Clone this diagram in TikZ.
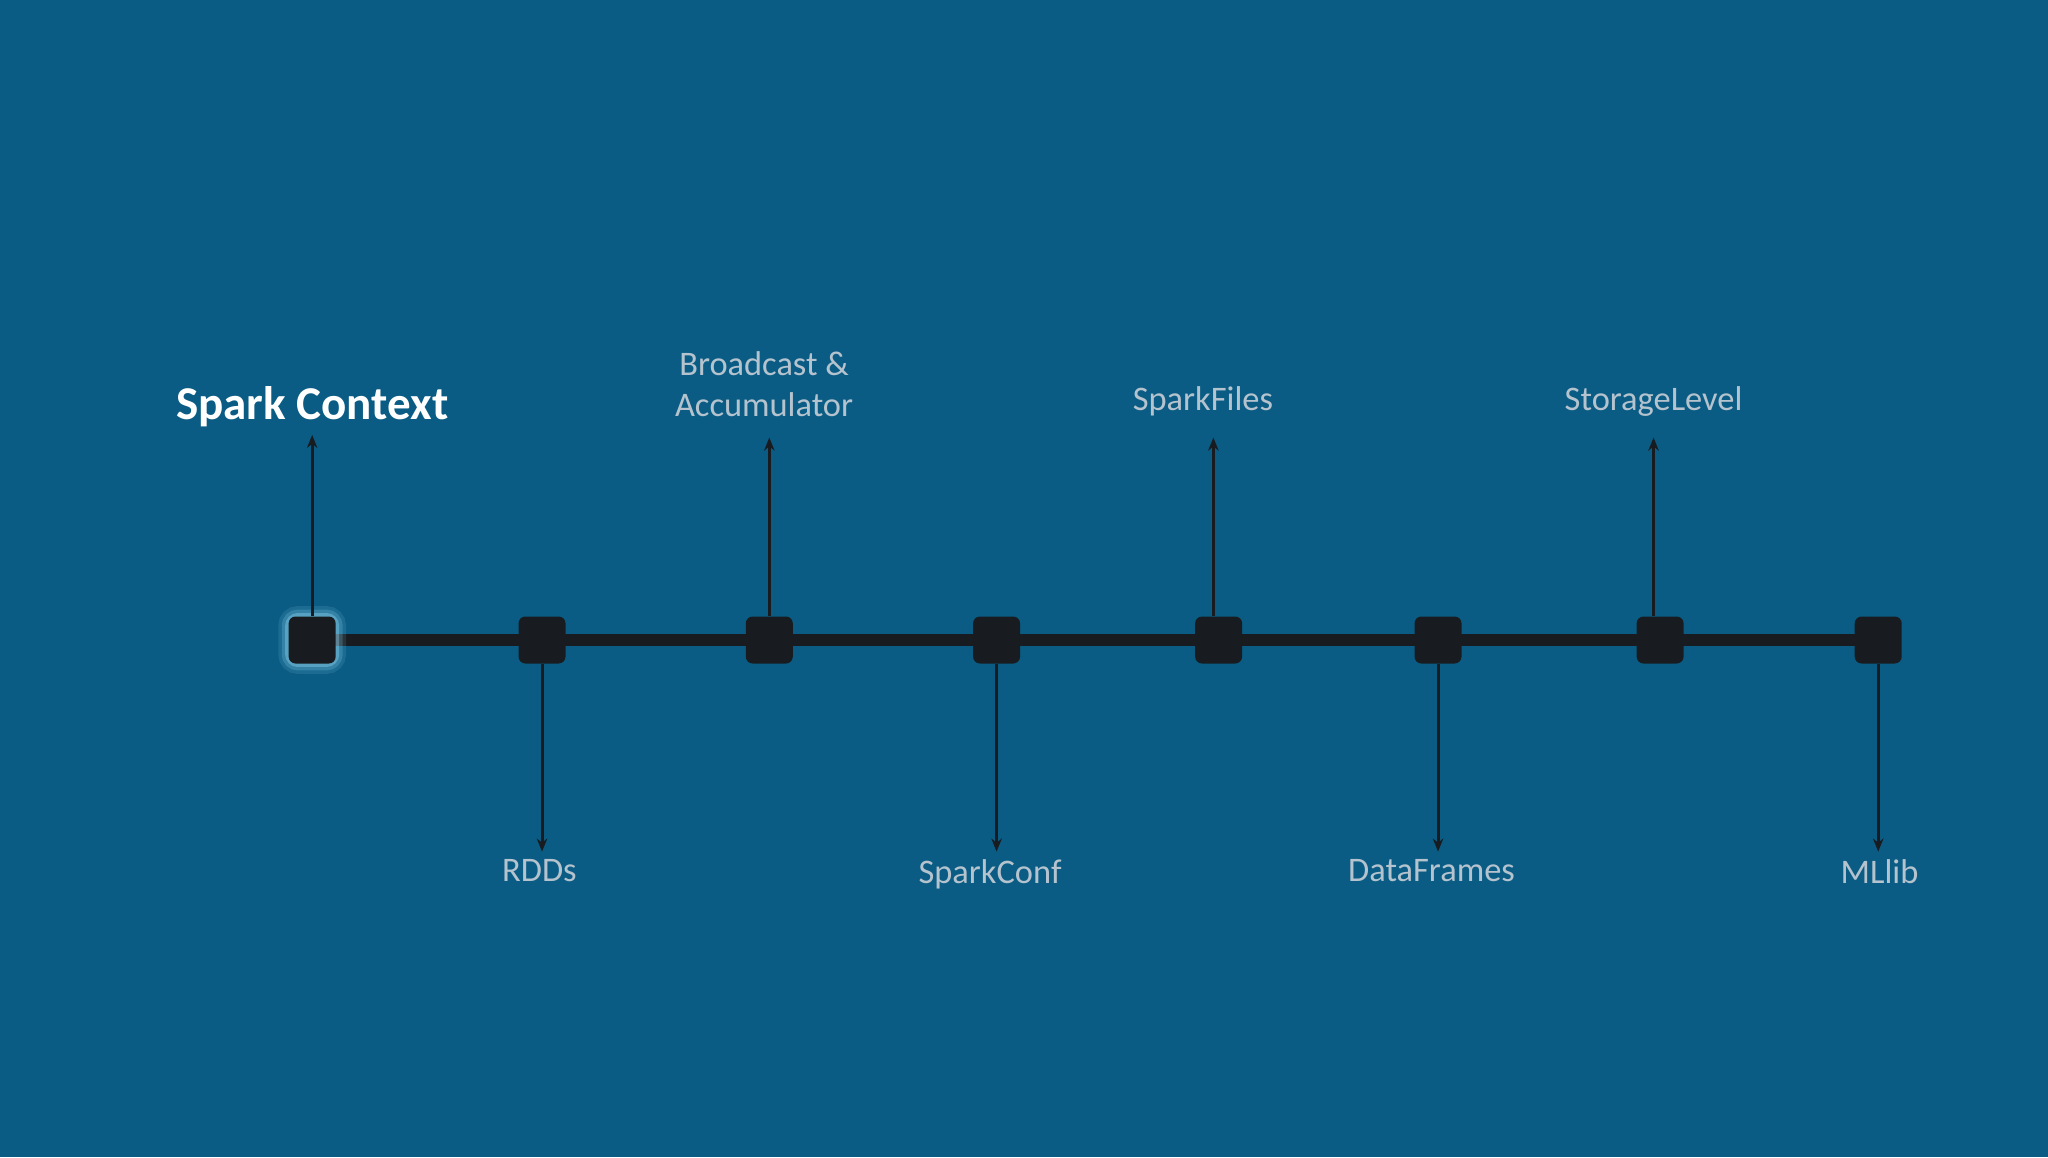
\documentclass[tikz,border=0pt]{standalone}
\usepackage{fontspec}
\setmainfont{Carlito}
\usetikzlibrary{arrows.meta, positioning}
\definecolor{bgblue}{HTML}{0A5C84}
\definecolor{boxdark}{HTML}{181C20}
\definecolor{labgray}{HTML}{B4C3CE}
\begin{document}
\begin{tikzpicture}[x=0.02cm, y=-0.02cm,
    stop/.style={rectangle, rounded corners=3pt, fill=boxdark, minimum size=0.72cm, inner sep=0pt},
    lab/.style={text=labgray, font=\fontsize{15}{17.5}\selectfont, align=center},
    arrow/.style={-{Stealth[length=2mm, width=1.6mm]}, line width=1.3pt, draw=boxdark}
]
\fill[bgblue] (0,0) rectangle (1568,886);

% timeline
\draw[line width=5pt, draw=boxdark] (239,490) -- (1438,490);
\foreach \w/\o in {9pt/0.12, 6pt/0.2, 3pt/0.35}
    \draw[cyan!40, line width=\w, opacity=\o, rounded corners=4pt] (221,472) rectangle (257,508);
\node[stop] (s1) at (239,490) {};
\foreach \i/\x in {2/415, 3/589, 4/763, 5/933, 6/1101, 7/1271, 8/1438}
    \node[stop] (s\i) at (\x,490) {};

% labels above
\node[anchor=south, text=white, font=\fontsize{20.5}{24}\selectfont\bfseries] (ctx) at (239,333) {Spark Context};
\node[lab, anchor=south] (bcast) at (585,325) {Broadcast \&\\Accumulator};
\node[lab, anchor=south] (files) at (921,325) {SparkFiles};
\node[lab, anchor=south] (storage) at (1266,325) {StorageLevel};
\coordinate (fup) at (929,335);

% labels below
\node[lab, anchor=north] (rdds) at (413,652) {RDDs};
\node[lab, anchor=north] (conf) at (758,652) {SparkConf};
\node[lab, anchor=north] (frames) at (1096,652) {DataFrames};
\node[lab, anchor=north] (mllib) at (1439,652) {MLlib};

% arrows
\draw[arrow] (s1.north) -- (ctx.south);
\draw[arrow] (s3.north) -- (s3 |- fup);
\draw[arrow] (s5.north -| fup) -- (fup);
\draw[arrow] (s7.north -| storage) -- (storage.south |- fup);
\draw[arrow] (s2.south) -- (rdds.north -| s2);
\draw[arrow] (s4.south) -- (conf.north -| s4);
\draw[arrow] (s6.south) -- (frames.north -| s6);
\draw[arrow] (s8.south) -- (mllib.north -| s8);
\end{tikzpicture}
\end{document}
